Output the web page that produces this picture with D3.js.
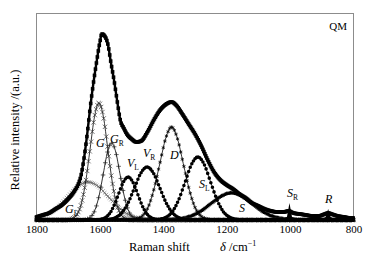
<!DOCTYPE html>
<html>
<head>
<meta charset="utf-8">
<script src="https://cdn.jsdelivr.net/npm/d3@7"></script>
<style>
body { margin: 0; background: #fff; }
svg text { font-family: "Liberation Serif", "DejaVu Serif", serif; fill: #000; }
</style>
</head>
<body>
<svg id="chart" width="375" height="257"></svg>
<script>
// measured spectrum: [Raman shift /cm-1, intensity a.u.]
const measured = [[1800,3],[1780,5],[1760,7],[1740,11],[1720,15],[1700,21],[1680,29],[1668,36],[1660,44],[1650,62],[1640,86],[1630,114],[1620,138],[1610,159],[1600,178],[1594,186],[1585,184],[1575,176],[1565,157],[1555,139],[1545,118],[1535,99],[1525,92],[1515,86],[1500,81],[1485,78],[1470,79],[1450,88],[1430,100],[1410,110],[1390,116],[1374,118],[1360,115],[1340,106],[1320,96],[1300,86],[1280,74],[1260,60],[1240,48],[1220,40],[1200,35],[1180,31],[1160,26],[1140,22],[1120,17],[1100,14],[1080,11],[1060,9],[1040,8],[1020,8],[1005,9],[990,7],[970,6],[950,5],[930,4],[910,4],[890,6],[880,7],[870,6],[850,4],[830,3],[810,2],[800,2]];

// fitted bands
const bandGL = [[1800,1.7],[1768,5.1],[1735,12.3],[1703,23.0],[1670,33.5],[1638,38],[1605,33.5],[1573,23.0],[1540,12.3],[1508,5.1],[1475,1.7],[1443,0.4],[1400,0],[800,0]];
const bandG = [[1800,0],[1700,0],[1687,1.3],[1673,5.1],[1659,15.8],[1645,38.0],[1631,71.0],[1617,103.3],[1603,117],[1589,103.3],[1575,71.0],[1561,38.0],[1547,15.8],[1533,5.1],[1519,1.3],[1505,0],[800,0]];
const bandGR = [[1800,0],[1655,0],[1641,0.9],[1628,3.4],[1615,10.4],[1602,25.0],[1589,46.7],[1576,68.0],[1563,77],[1550,68.0],[1537,46.7],[1524,25.0],[1511,10.4],[1498,3.4],[1485,0.9],[1470,0],[800,0]];
const bandVL = [[1800,0],[1616,0],[1601,0.5],[1586,1.9],[1571,5.8],[1556,14.0],[1541,26.1],[1526,37.9],[1511,43],[1496,37.9],[1481,26.1],[1466,14.0],[1451,5.8],[1436,1.9],[1421,0.5],[1406,0],[800,0]];
const bandVR = [[1800,0],[1591,0],[1571,0.6],[1551,2.3],[1531,7.2],[1511,17.2],[1491,32.1],[1471,46.8],[1451,53],[1431,46.8],[1411,32.1],[1391,17.2],[1371,7.2],[1351,2.3],[1331,0.6],[1311,0],[800,0]];
const bandD = [[1800,0],[1504,0],[1485,1.0],[1466,4.1],[1448,12.6],[1430,30.2],[1411,56.4],[1392,82.1],[1374,93],[1356,82.1],[1337,56.4],[1318,30.2],[1300,12.6],[1282,4.1],[1263,1.0],[1244,0],[800,0]];
const bandSL = [[1800,0],[1431,0],[1411,0.7],[1391,2.8],[1371,8.5],[1351,20.5],[1331,38.2],[1311,55.6],[1291,63],[1271,55.6],[1251,38.2],[1231,20.5],[1211,8.5],[1191,2.8],[1171,0.7],[1151,0],[800,0]];
const bandS = [[1800,0],[1412,0],[1380,0.3],[1347,1.2],[1315,3.7],[1282,8.8],[1250,16.4],[1217,23.8],[1185,27],[1153,23.8],[1120,16.4],[1088,8.8],[1055,3.7],[1023,1.2],[990,0.3],[958,0],[800,0]];
const bandSR = [[1040,0],[1010,3],[1002,17],[994,3],[960,0]];
const bandR = [[905,0],[888,3],[880,11],[872,3],[855,0]];

const xTicks = [1800, 1600, 1400, 1200, 1000, 800];

const serif = "'Liberation Serif', 'DejaVu Serif', serif";
const svg = d3.select("#chart").attr("font-family", serif);

const x = d3.scaleLinear().domain([1800, 800]).range([36.5, 353.5]);
const y = d3.scaleLinear().domain([0, 207]).range([220, 13]);

// frame
svg.append("rect")
    .attr("x", 36.5).attr("y", 13.5)
    .attr("width", 317).attr("height", 206.5)
    .attr("fill", "none").attr("stroke", "#8c8c8c").attr("stroke-width", 1);

const line = d3.line().x(d => x(d[0])).y(d => y(d[1])).curve(d3.curveMonotoneX);

// y on the drawn path for a given pixel x
function lookup(path) {
    const L = path.getTotalLength(), pts = [];
    for (let l = 0; l <= L; l += 0.5) pts.push(path.getPointAtLength(l));
    pts.sort((a, b) => a.x - b.x);
    const xs = pts.map(p => p.x);
    return px => {
        const i = d3.bisectLeft(xs, px);
        if (i <= 0) return pts[0].y;
        if (i >= pts.length) return pts[pts.length - 1].y;
        const a = pts[i - 1], b = pts[i];
        const t = b.x === a.x ? 0 : (px - a.x) / (b.x - a.x);
        return a.y + t * (b.y - a.y);
    };
}

const times = d3.symbolTimes || d3.symbolCross;
const plus = d3.symbolPlus || d3.symbolCross;
const star = d3.symbolAsterisk || d3.symbolCross;

const bands = [
    {data: bandGL, sym: times, size: 10, step: 5, color: "#777", filled: false},
    {data: bandS, sym: d3.symbolTriangle, size: 8, step: 4, color: "#000", filled: true},
    {data: bandGR, sym: plus, size: 8, step: 7, color: "#222", filled: false},
    {data: bandG, sym: times, size: 14, step: 4, color: "#333", filled: false},
    {data: bandVL, sym: d3.symbolCircle, size: 10, step: 5, color: "#000", filled: true},
    {data: bandVR, sym: d3.symbolCircle, size: 10, step: 5, color: "#000", filled: true},
    {data: bandD, sym: star, size: 10, step: 5, color: "#000", filled: false},
    {data: bandSL, sym: d3.symbolCircle, size: 10, step: 5, color: "#000", filled: true}
];

bands.forEach(b => {
    const g = svg.append("g");
    const path = g.append("path")
        .attr("d", line(b.data))
        .attr("fill", "none")
        .attr("stroke", "#000")
        .attr("stroke-width", 0.8);
    const yAt = lookup(path.node());
    const marks = d3.range(1800, 799, -b.step);
    g.selectAll("path.m").data(marks).enter().append("path")
        .attr("class", "m")
        .attr("d", d3.symbol().type(b.sym).size(b.size))
        .attr("transform", d => "translate(" + x(d) + "," + yAt(x(d)) + ")")
        .attr("fill", b.filled ? b.color : "none")
        .attr("stroke", b.filled ? "none" : b.color)
        .attr("stroke-width", 0.7);
});

// narrow S_R and R peaks
const spike = d3.area().x(d => x(d[0])).y0(y(0)).y1(d => y(d[1]));
[bandSR, bandR].forEach(b => {
    svg.append("path").attr("d", spike(b)).attr("fill", "#000");
});

// measured spectrum on top
const total = svg.append("path")
    .attr("d", line(measured))
    .attr("fill", "none")
    .attr("stroke", "#000")
    .attr("stroke-width", 2.4);
const totalAt = lookup(total.node());
svg.append("g").selectAll("rect")
    .data(d3.range(1800, 799, -3))
    .enter().append("rect")
    .attr("x", d => x(d) - 1.8)
    .attr("y", d => totalAt(x(d)) - 1.8)
    .attr("width", 3.6).attr("height", 3.6)
    .attr("fill", "#000");

// x axis
const xAxis = svg.append("g")
    .attr("transform", "translate(0,220)")
    .call(d3.axisBottom(x).tickValues(xTicks).tickFormat(d3.format("d"))
        .tickSize(0).tickPadding(5).tickSizeOuter(0));
xAxis.attr("font-family", serif).attr("font-size", 11);
xAxis.select(".domain").attr("stroke", "#000").attr("stroke-width", 1.2);
xAxis.selectAll("text")
    .style("font-family", serif)
    .style("font-size", "11px")
    .attr("fill", "#000");

// axis titles
const xt = svg.append("text").attr("x", 129).attr("y", 251)
    .style("font-family", serif).style("font-size", "12.5px");
xt.append("tspan").text("Raman shift");
xt.append("tspan").attr("x", 220).style("font-style", "italic").text("δ");
xt.append("tspan").text(" /cm");
xt.append("tspan").attr("dy", -5).style("font-size", "8px").text("−1");

svg.append("text")
    .attr("transform", "translate(19,130) rotate(-90)")
    .attr("text-anchor", "middle")
    .style("font-family", serif)
    .style("font-size", "12.5px")
    .text("Relative intensity /(a.u.)");

svg.append("text")
    .attr("x", 347).attr("y", 30)
    .attr("text-anchor", "end")
    .style("font-family", serif)
    .style("font-size", "11px")
    .text("QM");

// band labels: [name, subscript, left, baseline]
const bandLabels = [
    ["G", "L", 65, 213], ["G", "", 96, 147], ["G", "R", 110, 143],
    ["V", "L", 127, 167], ["V", "R", 143, 157], ["D", "", 170, 159],
    ["S", "L", 199, 188], ["S", "", 239, 212], ["S", "R", 287, 197],
    ["R", "", 325, 203]
];
bandLabels.forEach(l => {
    const t = svg.append("text").attr("x", l[2]).attr("y", l[3])
        .style("font-family", serif)
        .style("font-size", "12px").style("font-style", "italic");
    t.append("tspan").text(l[0]);
    if (l[1]) t.append("tspan").attr("dy", 3).style("font-size", "7.5px").style("font-style", "normal").text(l[1]);
});
</script>
</body>
</html>
